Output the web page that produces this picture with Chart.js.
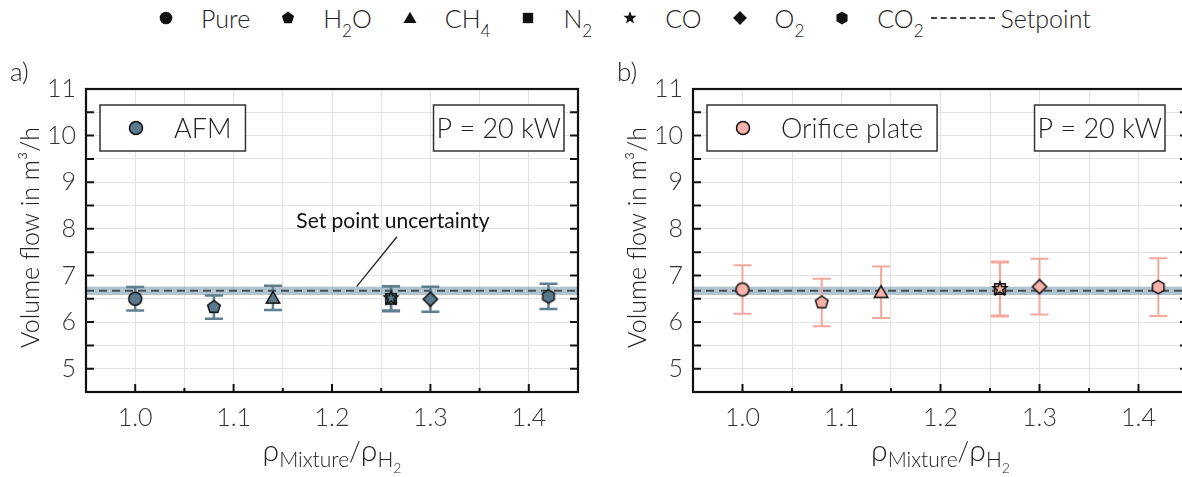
<!DOCTYPE html>
<html>
<head>
<meta charset="utf-8">
<script src="https://cdn.jsdelivr.net/npm/chart.js@4"></script>
<style>
  body { margin: 0; width: 1182px; height: 477px; overflow: hidden; background: #fff; position: relative;
         font-family: Lato, "Open Sans", sans-serif; font-weight: 300; color: #222; }
  #legend { position: absolute; top: 3px; left: 157px; display: flex; align-items: center; font-size: 25px;
            white-space: nowrap; color: #222; -webkit-font-smoothing: antialiased; }
  #legend .item { display: flex; align-items: center; margin-right: 29px; }
  #legend .item canvas { position: static; margin-right: 26px; }
  #legend sub { font-size: 17px; vertical-align: -9px; line-height: 0; }
  #legend .dash { width: 64px; border-top: 2px dashed #444; margin-right: 6px; margin-left: -22px; }
  .panel { position: absolute; top: 40px; }
</style>
</head>
<body>
<div id="legend"></div>
<canvas id="afmChart" class="panel" width="600" height="437" style="left:0px"></canvas>
<canvas id="orificeChart" class="panel" width="600" height="437" style="left:607px"></canvas>
<script>
const gases = ["Pure", "H2O", "CH4", "N2", "CO", "O2", "CO2"];
const gasLabels = ["Pure", "H<sub>2</sub>O", "CH<sub>4</sub>", "N<sub>2</sub>", "CO", "O<sub>2</sub>", "CO<sub>2</sub>"];
const markerShapes = ["circle", "pentagon", "triangle", "square", "star", "diamond", "hexagon"];
const densityRatio = [1.0, 1.08, 1.14, 1.26, 1.26, 1.3, 1.42];

const afmFlow = [6.5, 6.32, 6.52, 6.5, 6.51, 6.49, 6.55];
const afmUncertainty = [0.25, 0.25, 0.26, 0.27, 0.26, 0.27, 0.27];
const orificeFlow = [6.7, 6.42, 6.64, 6.71, 6.71, 6.76, 6.75];
const orificeUncertainty = [0.52, 0.51, 0.55, 0.59, 0.57, 0.6, 0.62];

const setpoint = 6.67;
const setpointUncertainty = 0.09;

const FONT = "Lato, 'Open Sans', sans-serif";

// polygon / star outline centred at (c, c)
function shapePath(ctx, shape, c, r) {
  ctx.beginPath();
  if (shape === "circle") {
    ctx.arc(c, c, r, 0, 2 * Math.PI);
  } else if (shape === "square") {
    ctx.rect(c - r * 0.82, c - r * 0.82, r * 1.64, r * 1.64);
  } else if (shape === "star") {
    for (let i = 0; i < 10; i++) {
      const a = -Math.PI / 2 + (i * Math.PI) / 5;
      const rr = i % 2 === 0 ? r * 1.1 : r * 0.45;
      ctx.lineTo(c + rr * Math.cos(a), c + rr * Math.sin(a));
    }
  } else {
    const sides = { triangle: 3, diamond: 4, pentagon: 5, hexagon: 6 }[shape];
    const rr = shape === "triangle" ? r * 1.2 : shape === "diamond" ? r * 1.1 : r * 1.02;
    const cy = shape === "triangle" ? c + r * 0.2 : c;
    for (let i = 0; i < sides; i++) {
      const a = -Math.PI / 2 + (i * 2 * Math.PI) / sides;
      ctx.lineTo(c + rr * Math.cos(a), cy + rr * Math.sin(a));
    }
  }
  ctx.closePath();
}

function makeMarker(shape, r, fill, stroke, lw) {
  const size = Math.ceil(2 * r * 1.25 + 2 * lw + 2);
  const cv = document.createElement("canvas");
  cv.width = size;
  cv.height = size;
  const ctx = cv.getContext("2d");
  shapePath(ctx, shape, size / 2, r);
  ctx.fillStyle = fill;
  ctx.fill();
  if (lw > 0) {
    ctx.lineWidth = lw;
    ctx.strokeStyle = stroke;
    ctx.lineJoin = "miter";
    ctx.stroke();
  }
  return cv;
}

// top legend
const legend = document.getElementById("legend");
gases.forEach((g, i) => {
  const item = document.createElement("div");
  item.className = "item";
  item.appendChild(makeMarker(markerShapes[i], 6.3, "#111", "#111", 0));
  const span = document.createElement("span");
  span.innerHTML = gasLabels[i];
  item.appendChild(span);
  legend.appendChild(item);
});
const setItem = document.createElement("div");
setItem.className = "item";
setItem.innerHTML = '<div class="dash"></div><span>Setpoint</span>';
legend.appendChild(setItem);

function drawRhoTitle(ctx, cx, y) {
  const parts = [
    { t: "\u03c1", size: 30, dy: 0 },
    { t: "Mixture", size: 21, dy: 6 },
    { t: "/", size: 27, dy: 0 },
    { t: "\u03c1", size: 30, dy: 0 },
    { t: "H", size: 21, dy: 6 },
    { t: "2", size: 14, dy: 12 },
  ];
  let total = 0;
  parts.forEach((p) => {
    ctx.font = `300 ${p.size}px ${FONT}`;
    p.w = ctx.measureText(p.t).width;
    total += p.w;
  });
  let x = cx - total / 2;
  ctx.textAlign = "left";
  ctx.textBaseline = "alphabetic";
  parts.forEach((p) => {
    ctx.font = `300 ${p.size}px ${FONT}`;
    ctx.fillText(p.t, x, y + p.dy);
    x += p.w;
  });
}

const panelPlugin = {
  id: "panel",
  beforeDatasetsDraw(chart, args, opts) {
    const { ctx, chartArea } = chart;
    const xs = chart.scales.x;
    const ys = chart.scales.y;
    ctx.save();
    // set point band and line
    const yHi = ys.getPixelForValue(setpoint + setpointUncertainty);
    const yLo = ys.getPixelForValue(setpoint - setpointUncertainty);
    ctx.fillStyle = "rgba(132, 160, 178, 0.62)";
    ctx.fillRect(chartArea.left, yHi, chartArea.right - chartArea.left, yLo - yHi);
    ctx.setLineDash([8, 5]);
    ctx.strokeStyle = "#46525a";
    ctx.lineWidth = 2;
    const ySp = ys.getPixelForValue(setpoint);
    ctx.beginPath();
    ctx.moveTo(chartArea.left, ySp);
    ctx.lineTo(chartArea.right, ySp);
    ctx.stroke();
    ctx.setLineDash([]);
    // error bars
    ctx.strokeStyle = opts.errColor;
    ctx.lineWidth = opts.errWidth;
    opts.flows.forEach((v, i) => {
      const px = xs.getPixelForValue(densityRatio[i]);
      const top = ys.getPixelForValue(v + opts.errors[i]);
      const bot = ys.getPixelForValue(v - opts.errors[i]);
      ctx.beginPath();
      ctx.moveTo(px, top);
      ctx.lineTo(px, bot);
      ctx.moveTo(px - 9, top);
      ctx.lineTo(px + 9, top);
      ctx.moveTo(px - 9, bot);
      ctx.lineTo(px + 9, bot);
      ctx.stroke();
    });
    ctx.restore();
  },
  afterDraw(chart, args, opts) {
    const { ctx, chartArea } = chart;
    const { left, right, top, bottom } = chartArea;
    const xs = chart.scales.x;
    const ys = chart.scales.y;
    ctx.save();

    // annotation
    if (opts.note) {
      ctx.strokeStyle = "#222";
      ctx.lineWidth = 1.3;
      ctx.beginPath();
      ctx.moveTo(xs.getPixelForValue(1.266), ys.getPixelForValue(7.83));
      ctx.lineTo(xs.getPixelForValue(1.225), ys.getPixelForValue(6.76));
      ctx.stroke();
      ctx.fillStyle = "#111";
      ctx.font = `400 21px ${FONT}`;
      ctx.textAlign = "center";
      ctx.textBaseline = "middle";
      ctx.fillText(opts.note, xs.getPixelForValue(1.262), ys.getPixelForValue(8.16));
    }

    // legend box with series name
    ctx.font = `300 27px ${FONT}`;
    ctx.textBaseline = "middle";
    ctx.textAlign = "left";
    const bx = left + 14, by = top + 16, bh = 46;
    const bw = 88 + ctx.measureText(opts.name).width;
    ctx.fillStyle = "#fff";
    ctx.fillRect(bx, by, bw, bh);
    ctx.strokeStyle = "#333";
    ctx.lineWidth = 1.5;
    ctx.strokeRect(bx, by, bw, bh);
    const m = makeMarker("circle", 6.5, opts.fill, "#111", 1.5);
    ctx.drawImage(m, bx + 36 - m.width / 2, by + bh / 2 - m.height / 2);
    ctx.fillStyle = "#222";
    ctx.fillText(opts.name, bx + 74, by + bh / 2 + 1);

    // power box
    const pText = "P = 20 kW";
    const pw = ctx.measureText(pText).width + 6;
    const px = opts.pRight - pw;
    ctx.fillStyle = "#fff";
    ctx.fillRect(px, by, pw, bh);
    ctx.strokeRect(px, by, pw, bh);
    ctx.fillStyle = "#222";
    ctx.fillText(pText, px + 3, by + bh / 2 + 1);

    // frame with inward ticks
    ctx.strokeStyle = "#111";
    ctx.lineWidth = 2.2;
    ctx.strokeRect(left, top, right - left, bottom - top);
    ctx.lineWidth = 2;
    ctx.beginPath();
    ys.ticks.forEach((t) => {
      const py = ys.getPixelForValue(t.value);
      ctx.moveTo(left, py);
      ctx.lineTo(left + 8, py);
      ctx.moveTo(right, py);
      ctx.lineTo(right - 8, py);
    });
    xs.ticks.forEach((t) => {
      const px2 = xs.getPixelForValue(t.value);
      const major = Math.round(t.value * 100) % 10 === 0;
      ctx.moveTo(px2, bottom);
      ctx.lineTo(px2, bottom - (major ? 8 : 4));
    });
    ctx.stroke();

    // panel letter and axis titles
    ctx.fillStyle = "#222";
    ctx.font = `300 26px ${FONT}`;
    ctx.textAlign = "left";
    ctx.textBaseline = "middle";
    ctx.fillText(opts.letter, 10, 33);

    ctx.save();
    ctx.translate(31, (top + bottom) / 2 - 3);
    ctx.rotate(-Math.PI / 2);
    ctx.textAlign = "center";
    ctx.font = `300 25px ${FONT}`;
    ctx.fillText("Volume flow in m\u00b3/h", 0, 0);
    ctx.restore();

    drawRhoTitle(ctx, (left + right) / 2, 421);
    ctx.restore();
  },
};

function makeChart(id, flows, errors, fill, extra) {
  const shapes = markerShapes.map((s) => makeMarker(s, 6.5, fill, "#111", 1.5));
  return new Chart(document.getElementById(id), {
    type: "scatter",
    data: {
      datasets: [
        {
          data: densityRatio.map((x, i) => ({ x: x, y: flows[i] })),
          pointStyle: shapes,
          pointRadius: 7,
        },
      ],
    },
    options: {
      responsive: false,
      animation: false,
      devicePixelRatio: 1,
      layout: { padding: { top: 49, right: extra.padRight, left: 0, bottom: 0 } },
      plugins: {
        legend: { display: false },
        tooltip: { enabled: false },
        panel: {
          flows: flows,
          errors: errors,
          fill: fill,
          errColor: extra.errColor,
          errWidth: extra.errWidth,
          name: extra.name,
          letter: extra.letter,
          note: extra.note,
          pRight: extra.pRight,
        },
      },
      scales: {
        x: {
          type: "linear",
          min: 0.95,
          max: 1.45,
          afterFit: (s) => { s.height = 85; },
          grid: { color: "#e2e2e2", lineWidth: 1, drawTicks: false },
          border: { display: false },
          ticks: {
            stepSize: 0.05,
            padding: 11,
            color: "#333",
            font: { family: FONT, size: 25, weight: 300 },
            maxRotation: 0,
            autoSkip: false,
            callback: (v) => (Math.round(v * 100) % 10 === 0 ? v.toFixed(1) : ""),
          },
        },
        y: {
          min: 4.5,
          max: 11,
          afterFit: (s) => { s.width = 86; },
          grid: { color: "#e2e2e2", lineWidth: 1, drawTicks: false },
          border: { display: false },
          ticks: {
            stepSize: 0.5,
            padding: 10,
            color: "#333",
            font: { family: FONT, size: 25, weight: 300 },
            autoSkip: false,
            callback: (v) => (Number.isInteger(v) ? String(v) : ""),
          },
        },
      },
    },
    plugins: [panelPlugin],
  });
}

makeChart("afmChart", afmFlow, afmUncertainty, "#5a7a8c", {
  padRight: 22,
  errColor: "#5f7f90",
  errWidth: 2.5,
  name: "AFM",
  letter: "a)",
  note: "Set point uncertainty",
  pRight: 564,
});

makeChart("orificeChart", orificeFlow, orificeUncertainty, "#f8b2aa", {
  padRight: 19,
  errColor: "#f6a79e",
  errWidth: 2,
  name: "Orifice plate",
  letter: "b)",
  note: null,
  pRight: 558,
});
</script>
</body>
</html>
